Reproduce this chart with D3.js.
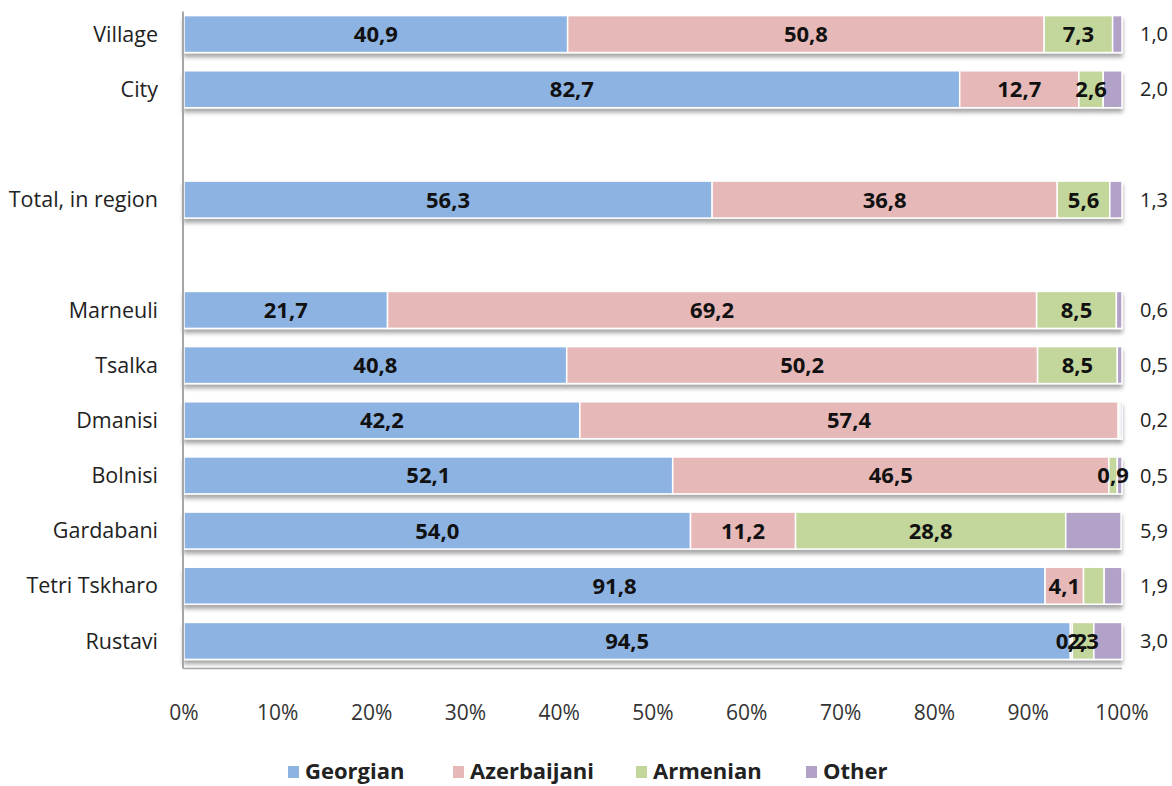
<!DOCTYPE html>
<html>
<head>
<meta charset="utf-8">
<script src="https://cdn.jsdelivr.net/npm/d3@7/dist/d3.min.js"></script>
<style>
  html, body { margin: 0; padding: 0; background: #fff; }
  svg { display: block; font-family: "Open Sans", Lato, sans-serif; }
</style>
</head>
<body>
<svg id="chart" width="1172" height="786"></svg>
<script>
// Rows top to bottom; blank names are spacer rows
const rows = ["Village", "City", "", "Total, in region", " ",
  "Marneuli", "Tsalka", "Dmanisi", "Bolnisi", "Gardabani", "Tetri Tskharo", "Rustavi"];
const categories = ["Village", "City", "Total, in region",
  "Marneuli", "Tsalka", "Dmanisi", "Bolnisi", "Gardabani", "Tetri Tskharo", "Rustavi"];
const seriesNames = ["Georgian", "Azerbaijani", "Armenian", "Other"];
const georgian    = [40.9, 82.7, 56.3, 21.7, 40.8, 42.2, 52.1, 54.0, 91.8, 94.5];
const azerbaijani = [50.8, 12.7, 36.8, 69.2, 50.2, 57.4, 46.5, 11.2, 4.1, 0.2];
const armenian    = [7.3, 2.6, 5.6, 8.5, 8.5, 0.2, 0.9, 28.8, 2.2, 2.3];
const other       = [1.0, 2.0, 1.3, 0.6, 0.5, 0.2, 0.5, 5.9, 1.9, 3.0];
// Whether the Armenian share is labelled inside the bar
const armenianShown = [true, true, true, true, true, false, true, true, false, true];
const xTicks = [0, 10, 20, 30, 40, 50, 60, 70, 80, 90, 100];
const colors = ["#8DB3E2", "#E6B9B8", "#C3D69B", "#B3A2C7"];

const fmt = v => v.toFixed(1).replace(".", ",");

const svg = d3.select("#chart");
const plot = { left: 184, right: 1122, top: 6.5, bottom: 668.5 };

const x = d3.scaleLinear().domain([0, 100]).range([plot.left, plot.right]);
const y = d3.scaleBand().domain(rows).range([plot.top, plot.bottom])
  .paddingInner(0.33).paddingOuter(0.165);

const defs = svg.append("defs");
const f = defs.append("filter").attr("id", "shadow")
  .attr("x", "-2%").attr("y", "-20%").attr("width", "104%").attr("height", "160%");
f.append("feDropShadow").attr("dx", 0).attr("dy", 4).attr("stdDeviation", 2)
  .attr("flood-color", "#000").attr("flood-opacity", 0.35);

const table = categories.map((c, i) => ({
  cat: c, vals: [georgian[i], azerbaijani[i], armenian[i], other[i]], armShown: armenianShown[i]
}));

// Stacked bars
table.forEach(row => {
  const g = svg.append("g").attr("filter", "url(#shadow)");
  let acc = 0;
  row.vals.forEach((v, k) => {
    const x0 = acc, x1 = Math.min(100, acc + v);
    acc += v;
    g.append("rect")
      .attr("x", x(x0)).attr("y", y(row.cat))
      .attr("width", Math.max(0, x(x1) - x(x0))).attr("height", y.bandwidth())
      .attr("fill", colors[k]).attr("stroke", "#fff").attr("stroke-width", 1.5);
  });
});

// Axis lines
svg.append("line").attr("x1", plot.left - 1).attr("x2", plot.left - 1)
  .attr("y1", plot.top + 5).attr("y2", plot.bottom).attr("stroke", "#a6a6a6").attr("stroke-width", 2);
svg.append("line").attr("x1", plot.left - 1).attr("x2", plot.right)
  .attr("y1", plot.bottom).attr("y2", plot.bottom).attr("stroke", "#a6a6a6").attr("stroke-width", 1.5);

// Value labels (Other shares sit to the right of the plot)
table.forEach(row => {
  const cy = y(row.cat) + y.bandwidth() / 2;
  let acc = 0;
  row.vals.forEach((v, k) => {
    const mid = acc + v / 2;
    acc += v;
    if (k === 3) {
      svg.append("text").attr("x", 1140).attr("y", cy).attr("dy", "0.36em")
        .attr("font-size", 20).attr("fill", "#222").text(fmt(v));
      return;
    }
    if (k === 2 && !row.armShown) return;
    svg.append("text").attr("x", x(mid)).attr("y", cy).attr("dy", "0.36em")
      .attr("text-anchor", "middle").attr("font-size", 22).attr("font-weight", "bold")
      .attr("fill", "#111").text(fmt(v));
  });
});

// Category labels
svg.append("g").selectAll("text").data(categories).join("text")
  .attr("x", 158).attr("y", d => y(d) + y.bandwidth() / 2).attr("dy", "0.36em")
  .attr("text-anchor", "end").attr("font-size", 21.5).attr("fill", "#222").text(d => d);

// X tick labels
svg.append("g").selectAll("text").data(xTicks).join("text")
  .attr("x", d => x(d)).attr("y", 712).attr("dy", "0.36em")
  .attr("text-anchor", "middle").attr("font-size", 21).attr("fill", "#333").text(d => d + "%");

// Legend
const legendX = [305, 470, 653, 823];
const lg = svg.append("g").selectAll("g").data(seriesNames).join("g")
  .attr("transform", (d, i) => `translate(${legendX[i]},771)`);
lg.append("rect").attr("x", -17).attr("y", -5).attr("width", 11).attr("height", 12)
  .attr("fill", (d, i) => colors[i]);
lg.append("text").attr("x", 0).attr("y", 0).attr("dy", "0.36em")
  .attr("font-size", 22).attr("font-weight", "bold").attr("fill", "#222").text(d => d);
</script>
</body>
</html>
